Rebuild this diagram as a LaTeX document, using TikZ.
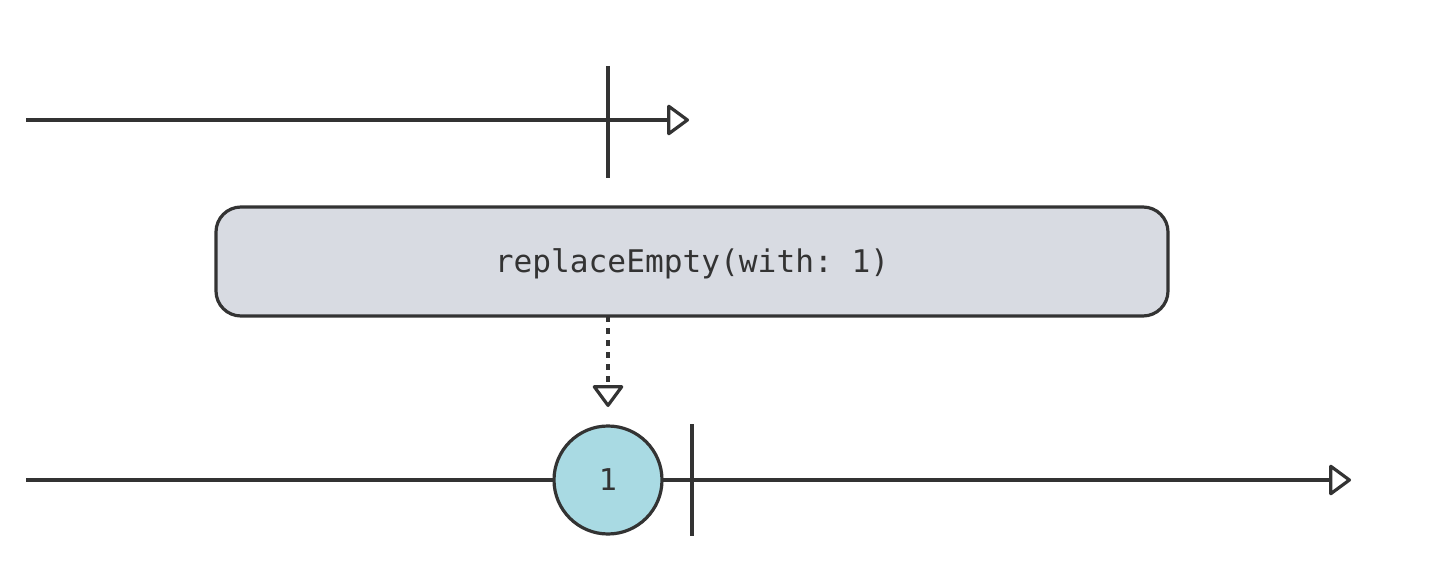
\documentclass[tikz,border=0pt]{standalone}
\usepackage{fontspec}
\setmonofont{DejaVu Sans Mono}
\usetikzlibrary{arrows.meta}
\definecolor{ink}{HTML}{333333}
\definecolor{boxfill}{HTML}{D8DBE2}
\definecolor{marblefill}{HTML}{A9DAE3}
\tikzset{
  line/.style={draw=ink, line width=1.6pt},
  tip/.style={-{Triangle[open,length=11.5pt,width=16.5pt,round]}},
  opbox/.style={line, fill=boxfill, rounded corners=12.5pt, minimum width=476pt, minimum height=54.5pt, inner sep=0pt, text height=14pt, text depth=2.5pt, font=\ttfamily\fontsize{15.6pt}{18pt}\selectfont, text=ink},
  marble/.style={line, fill=marblefill, circle, minimum size=54pt, inner sep=0pt, font=\ttfamily\fontsize{15pt}{16pt}\selectfont, text=ink},
}
\begin{document}
\begin{tikzpicture}[x=0.5pt,y=-0.5pt]
\useasboundingbox (0,0) rectangle (1440,572);
% top timeline
\coordinate (t0) at (26,120);
\coordinate (t1) at (689,120);
\draw[line, tip] (t0) -- (t1);
\coordinate (tk0) at (608,66);
\coordinate (tk1) at (608,178);
\draw[line] (tk0) -- (tk1);
% operator box
\node[opbox] (op) at (692,261.5) {replaceEmpty(with: 1)};
% bottom timeline
\coordinate (b0) at (26,480);
\coordinate (b1) at (1351,480);
\draw[line, tip] (b0) -- (b1);
\node[marble] (m) at (608,480) {1};
\coordinate (bk0) at (692,424);
\coordinate (bk1) at (692,536);
\draw[line] (bk0) -- (bk1);
% dashed arrow
\coordinate (d0) at (608,316);
\coordinate (d1) at (608,407);
\draw[line, tip, dash pattern=on 3pt off 3pt] (d0) -- (d1);
\end{tikzpicture}
\end{document}
